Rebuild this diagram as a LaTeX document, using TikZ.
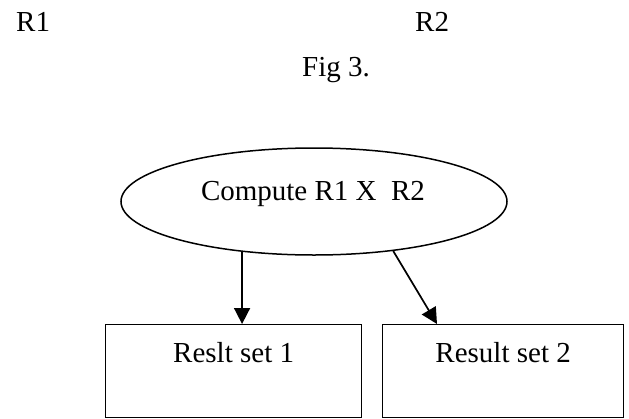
\documentclass[tikz,border=0pt]{standalone}
\usepackage{fontspec}
\setmainfont{Liberation Serif}
\usetikzlibrary{shapes.geometric,arrows.meta}
\begin{document}
\begin{tikzpicture}[x=1pt,y=-1pt,
  txt/.style={inner sep=0pt,font=\fontsize{29}{34}\selectfont},
  boxshape/.style={draw,line width=1.3pt,rectangle,inner sep=0pt,minimum height=93pt},
  ellshape/.style={draw,line width=1.5pt,ellipse,inner sep=0pt,minimum width=386pt,minimum height=107pt},
  arr/.style={line width=1.7pt,-{Triangle[length=16pt,width=16pt]}}]
\useasboundingbox (0,0) rectangle (629,418);
\node[txt,anchor=base west] (r1) at (16,31) {R1};
\node[txt,anchor=base west] (r2) at (415,31) {R2};
\node[txt,anchor=base west] (fig) at (302,76) {Fig 3.};
\node[ellshape] (ell) at (314,201.5) {};
\node[txt,anchor=base] (elltext) at (313,200) {Compute R1 X\ \ R2};
\node[boxshape,minimum width=256pt,anchor=north west] (b1) at (105,324) {};
\node[boxshape,minimum width=241pt,anchor=north west] (b2) at (382,324) {};
\node[txt,anchor=base] (t1) at ([yshift=-38pt]b1.north) {Reslt set 1};
\node[txt,anchor=base] (t2) at ([yshift=-38pt]b2.north) {Result set 2};
\draw[arr] (ell.215.9) -- (ell.215.9 |- b1.north);
\draw[arr] (ell.328.4) -- ([xshift=55pt]b2.north west);
\end{tikzpicture}
\end{document}
